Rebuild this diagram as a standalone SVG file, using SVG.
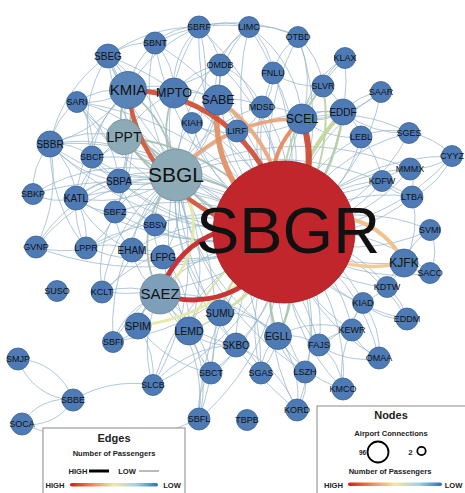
<svg xmlns="http://www.w3.org/2000/svg" width="465" height="493" viewBox="0 0 465 493">
<defs>
<linearGradient id="grad" x1="0" y1="0" x2="1" y2="0">
<stop offset="0" stop-color="#d7191c"/>
<stop offset="0.25" stop-color="#f08a4b"/>
<stop offset="0.5" stop-color="#f3e8a8"/>
<stop offset="0.75" stop-color="#a5d3e2"/>
<stop offset="1" stop-color="#2c6fb6"/>
</linearGradient>
<style>
.e path{fill:none;stroke:#92b2c8;stroke-width:0.9;opacity:0.8}
.e path.g{stroke:#a4bdb3;stroke-width:1.8;opacity:0.9}
.e path.k{opacity:0.95}
.n{fill:#4e7bb5;stroke:#3a6394;stroke-width:0.8}
.h{fill:#8dabb6;stroke:#6f8c98;stroke-width:0.8}
.l{font-family:"Liberation Sans",Arial,Helvetica,sans-serif;text-anchor:middle;fill:#111}
.s{font-size:9px}
.m{font-size:10px}
.lg{fill:#fff;stroke:#8a8a8a;stroke-width:1}
.b{font-family:"Liberation Sans",Arial,Helvetica,sans-serif;font-weight:bold;fill:#222}
</style>
</defs>
<rect width="465" height="493" fill="#fff"/>
<g id="connectors" class="e">
<!-- SBGR thin pairs -->
<path d="M284 232A300 300 0 0 0 108 56M284 232A300 300 0 0 1 108 56"/>
<path d="M284 232A275 275 0 0 0 155 43M284 232A275 275 0 0 1 155 43"/>
<path d="M284 232A265 265 0 0 0 199 27M284 232A265 265 0 0 1 199 27"/>
<path d="M284 232A250 250 0 0 0 249 27M284 232A250 250 0 0 1 249 27"/>
<path d="M284 232A235 235 0 0 0 298 37M284 232A235 235 0 0 1 298 37"/>
<path d="M284 232A215 215 0 0 0 220 65M284 232A215 215 0 0 1 220 65"/>
<path d="M284 232A190 190 0 0 0 273 73M284 232A190 190 0 0 1 273 73"/>
<path d="M284 232A150 150 0 0 0 262 107M284 232A150 150 0 0 1 262 107"/>
<path d="M284 232A170 170 0 0 0 192 123M284 232A170 170 0 0 1 192 123"/>
<path d="M284 232A220 220 0 0 0 345 58M284 232A220 220 0 0 1 345 58"/>
<path d="M284 232A205 205 0 0 0 381 92M284 232A205 205 0 0 1 381 92"/>
<path d="M284 232A145 145 0 0 0 361 137M284 232A145 145 0 0 1 361 137"/>
<path d="M284 232A190 190 0 0 0 409 133M284 232A190 190 0 0 1 409 133"/>
<path d="M284 232A220 220 0 0 0 452 156M284 232A220 220 0 0 1 452 156"/>
<path d="M284 232A170 170 0 0 0 410 169M284 232A170 170 0 0 1 410 169"/>
<path d="M284 232A130 130 0 0 0 382 181M284 232A130 130 0 0 1 382 181"/>
<path d="M284 232A160 160 0 0 0 412 197M284 232A160 160 0 0 1 412 197"/>
<path d="M284 232A175 175 0 0 0 430 230M284 232A175 175 0 0 1 430 230"/>
<path d="M284 232A180 180 0 0 0 430 273M284 232A180 180 0 0 1 430 273"/>
<path d="M284 232A140 140 0 0 0 387 287M284 232A140 140 0 0 1 387 287"/>
<path d="M284 232A130 130 0 0 0 363 303M284 232A130 130 0 0 1 363 303"/>
<path d="M284 232A180 180 0 0 0 407 319M284 232A180 180 0 0 1 407 319"/>
<path d="M284 232A145 145 0 0 0 352 330M284 232A145 145 0 0 1 352 330"/>
<path d="M284 232A140 140 0 0 0 319 345M284 232A140 140 0 0 1 319 345"/>
<path d="M284 232A190 190 0 0 0 379 358M284 232A190 190 0 0 1 379 358"/>
<path d="M284 232A170 170 0 0 0 305 372M284 232A170 170 0 0 1 305 372"/>
<path d="M284 232A200 200 0 0 0 343 389M284 232A200 200 0 0 1 343 389"/>
<path d="M284 232A215 215 0 0 0 297 410M284 232A215 215 0 0 1 297 410"/>
<path d="M284 232A170 170 0 0 0 261 373M284 232A170 170 0 0 1 261 373"/>
<path d="M284 232A190 190 0 0 0 211 373M284 232A190 190 0 0 1 211 373"/>
<path d="M284 232A240 240 0 0 0 153 385M284 232A240 240 0 0 1 153 385"/>
<path d="M284 232A245 245 0 0 0 199 419M284 232A245 245 0 0 1 199 419"/>
<path d="M284 232A245 245 0 0 0 113 342M284 232A245 245 0 0 1 113 342"/>
<path d="M284 232A230 230 0 0 0 102 292M284 232A230 230 0 0 1 102 292"/>
<path d="M284 232A240 240 0 0 0 86 248M284 232A240 240 0 0 1 86 248"/>
<path d="M284 232A300 300 0 0 1 36 247"/>
<path d="M284 232A300 300 0 0 0 33 194"/>
<path d="M284 232A255 255 0 0 0 76 198M284 232A255 255 0 0 1 76 198"/>
<path d="M284 232A210 210 0 0 0 119 181M284 232A210 210 0 0 1 119 181"/>
<path d="M284 232A205 205 0 0 0 115 212M284 232A205 205 0 0 1 115 212"/>
<path d="M284 232A155 155 0 0 0 155 225M284 232A155 155 0 0 1 155 225"/>
<path d="M284 232A185 185 0 0 0 132 250M284 232A185 185 0 0 1 132 250"/>
<path d="M284 232A250 250 0 0 0 92 157M284 232A250 250 0 0 1 92 157"/>
<path d="M284 232A300 300 0 0 0 50 144M284 232A300 300 0 0 1 50 144"/>
<path d="M284 232A295 295 0 0 0 77 102M284 232A295 295 0 0 1 77 102"/>
<path d="M284 232A150 150 0 0 0 236 345M284 232A150 150 0 0 1 236 345"/>
<!-- SBGL thin -->
<path d="M176 175A156 156 0 0 0 50 144M176 175A156 156 0 0 1 50 144"/>
<path d="M176 175A105 105 0 0 1 92 157"/>
<path d="M176 175A150 150 0 0 0 77 102"/>
<path d="M176 175A165 165 0 0 0 108 56M176 175A165 165 0 0 1 108 56"/>
<path d="M176 175A160 160 0 0 1 155 43"/>
<path d="M176 175A180 180 0 0 0 199 27M176 175A180 180 0 0 1 199 27"/>
<path d="M176 175A70 70 0 0 1 119 181"/>
<path d="M176 175A85 85 0 0 0 115 212"/>
<path d="M176 175A125 125 0 0 0 76 198M176 175A125 125 0 0 1 76 198"/>
<path d="M176 175A175 175 0 0 0 33 194"/>
<path d="M176 175A65 65 0 0 0 155 225"/>
<path d="M176 175A140 140 0 0 1 86 248"/>
<path d="M176 175A105 105 0 0 0 132 250"/>
<path d="M176 175A100 100 0 0 1 163 257"/>
<path d="M176 175A165 165 0 0 0 102 292"/>
<path d="M176 175A215 215 0 0 0 113 342"/>
<path d="M176 175A255 255 0 0 1 153 385"/>
<path d="M176 175A240 240 0 0 0 211 373"/>
<path d="M176 175A295 295 0 0 1 199 419"/>
<path d="M176 175A105 105 0 0 0 218 100"/>
<path d="M176 175A65 65 0 0 1 192 123"/>
<path d="M176 175A140 140 0 0 0 220 65"/>
<path d="M176 175A130 130 0 0 1 262 107"/>
<path d="M176 175A175 175 0 0 0 220 313"/>
<path d="M176 175A190 190 0 0 1 189 331"/>
<path d="M176 175A215 215 0 0 0 236 345"/>
<path d="M176 175A230 230 0 0 0 278 336"/>
<path d="M176 175A280 280 0 0 0 305 372"/>
<path d="M176 175A260 260 0 0 1 261 373"/>
<path d="M176 175A320 320 0 0 0 297 410"/>
<path d="M176 175A265 265 0 0 1 319 345"/>
<path d="M176 175A200 200 0 0 1 249 27"/>
<path d="M176 175A215 215 0 0 1 343 112"/>
<path d="M176 175A190 190 0 0 0 36 247"/>
<path d="M176 175A290 290 0 0 0 404 263"/>
<path d="M176 175A285 285 0 0 1 412 197"/>
<path d="M176 175A280 280 0 0 1 410 169"/>
<path d="M176 175A260 260 0 0 0 382 181"/>
<!-- other thin -->
<path d="M128 90A60 60 0 0 1 108 56M128 90A60 60 0 0 0 108 56"/>
<path d="M128 90A80 80 0 0 1 155 43"/>
<path d="M128 90A80 80 0 0 0 77 102M128 90A80 80 0 0 1 77 102"/>
<path d="M128 90A140 140 0 0 1 50 144"/>
<path d="M128 90A140 140 0 0 1 199 27"/>
<path d="M128 90A110 110 0 0 0 92 157"/>
<path d="M128 90A130 130 0 0 1 119 181"/>
<path d="M128 90A130 130 0 0 1 218 100"/>
<path d="M128 90A140 140 0 0 0 220 65"/>
<path d="M128 90A180 180 0 0 0 76 198"/>
<path d="M128 90A180 180 0 0 1 115 212"/>
<path d="M124 137A110 110 0 0 0 50 144"/>
<path d="M124 137A55 55 0 0 1 92 157"/>
<path d="M124 137A65 65 0 0 1 119 181"/>
<path d="M124 137A85 85 0 0 1 77 102"/>
<path d="M124 137A115 115 0 0 0 76 198"/>
<path d="M124 137A125 125 0 0 0 108 56"/>
<path d="M124 137A100 100 0 0 1 174 93"/>
<path d="M124 137A110 110 0 0 1 115 212"/>
<path d="M50 144A60 60 0 0 1 92 157"/>
<path d="M50 144A80 80 0 0 1 76 198"/>
<path d="M50 144A110 110 0 0 0 119 181"/>
<path d="M50 144A140 140 0 0 1 108 56"/>
<path d="M50 144A70 70 0 0 1 77 102"/>
<path d="M50 144A70 70 0 0 0 33 194"/>
<path d="M50 144A160 160 0 0 0 86 248"/>
<path d="M50 144A160 160 0 0 1 36 247"/>
<path d="M76 198A60 60 0 0 1 33 194"/>
<path d="M76 198A60 60 0 0 0 115 212"/>
<path d="M76 198A60 60 0 0 1 119 181"/>
<path d="M76 198A90 90 0 0 0 86 248M76 198A90 90 0 0 1 86 248"/>
<path d="M76 198A110 110 0 0 0 132 250"/>
<path d="M36 247A100 100 0 0 0 86 248"/>
<path d="M36 247A150 150 0 0 1 119 181"/>
<path d="M86 248A70 70 0 0 1 132 250"/>
<path d="M86 248A60 60 0 0 0 115 212"/>
<path d="M132 250A55 55 0 0 1 115 212"/>
<path d="M102 292A70 70 0 0 0 132 250"/>
<path d="M102 292A130 130 0 0 1 115 212"/>
<path d="M102 292A90 90 0 0 1 160 294"/>
<path d="M113 342A40 40 0 0 0 138 326"/>
<path d="M138 326A90 90 0 0 1 153 385"/>
<path d="M138 326A120 120 0 0 0 211 373"/>
<path d="M160 294A70 70 0 0 0 189 331"/>
<path d="M160 294A110 110 0 0 0 236 345"/>
<path d="M160 294A120 120 0 0 1 211 373"/>
<path d="M160 294A160 160 0 0 1 199 419"/>
<path d="M160 294A120 120 0 0 0 153 385"/>
<path d="M160 294A80 80 0 0 0 113 342"/>
<path d="M160 294A160 160 0 0 1 278 336"/>
<path d="M189 331A60 60 0 0 0 236 345"/>
<path d="M189 331A120 120 0 0 1 199 419"/>
<path d="M236 345A110 110 0 0 0 153 385"/>
<path d="M236 345A50 50 0 0 1 211 373"/>
<path d="M211 373A60 60 0 0 0 199 419"/>
<path d="M261 373A45 45 0 0 0 236 345"/>
<path d="M261 373A50 50 0 0 1 278 336"/>
<path d="M278 336A50 50 0 0 0 305 372"/>
<path d="M278 336A60 60 0 0 1 319 345"/>
<path d="M278 336A100 100 0 0 1 297 410"/>
<path d="M278 336A70 70 0 0 0 220 313"/>
<path d="M305 372A50 50 0 0 1 297 410"/>
<path d="M343 389A60 60 0 0 0 319 345"/>
<path d="M343 389A90 90 0 0 1 352 330"/>
<path d="M343 389A110 110 0 0 1 278 336"/>
<path d="M352 330A50 50 0 0 1 363 303"/>
<path d="M363 303A60 60 0 0 0 407 319"/>
<path d="M363 303A80 80 0 0 1 379 358"/>
<path d="M352 330A50 50 0 0 0 379 358"/>
<path d="M319 345A60 60 0 0 1 352 330"/>
<path d="M319 345A90 90 0 0 0 363 303"/>
<path d="M387 287A50 50 0 0 1 404 263"/>
<path d="M404 263A40 40 0 0 0 430 273"/>
<path d="M404 263A60 60 0 0 1 430 230"/>
<path d="M404 263A90 90 0 0 0 412 197"/>
<path d="M404 263A90 90 0 0 1 363 303"/>
<path d="M382 181A50 50 0 0 1 410 169"/>
<path d="M412 197A50 50 0 0 0 410 169"/>
<path d="M412 197A50 50 0 0 1 382 181"/>
<path d="M452 156A70 70 0 0 0 409 133"/>
<path d="M452 156A80 80 0 0 1 412 197"/>
<path d="M452 156A70 70 0 0 1 410 169"/>
<path d="M409 133A70 70 0 0 0 361 137"/>
<path d="M409 133A100 100 0 0 1 343 112"/>
<path d="M409 133A150 150 0 0 0 302 119"/>
<path d="M381 92A60 60 0 0 0 343 112"/>
<path d="M381 92A120 120 0 0 1 302 119"/>
<path d="M343 112A50 50 0 0 0 323 86"/>
<path d="M343 112A60 60 0 0 1 302 119M343 112A60 60 0 0 0 302 119"/>
<path d="M323 86A50 50 0 0 1 345 58"/>
<path d="M323 86A80 80 0 0 0 298 37"/>
<path d="M323 86A80 80 0 0 1 273 73"/>
<path d="M323 86A50 50 0 0 0 302 119"/>
<path d="M273 73A70 70 0 0 0 249 27"/>
<path d="M273 73A50 50 0 0 1 262 107"/>
<path d="M298 37A120 120 0 0 1 302 119"/>
<path d="M298 37A60 60 0 0 0 273 73"/>
<path d="M298 37A80 80 0 0 0 249 27"/>
<path d="M298 37A150 150 0 0 0 199 27"/>
<path d="M302 119A60 60 0 0 0 262 107"/>
<path d="M302 119A80 80 0 0 0 361 137"/>
<path d="M302 119A90 90 0 0 1 237 131"/>
<path d="M345 58A90 90 0 0 0 302 119"/>
<path d="M249 27A120 120 0 0 1 302 119"/>
<path d="M218 100A50 50 0 0 1 220 65"/>
<path d="M218 100A70 70 0 0 0 174 93"/>
<path d="M218 100A70 70 0 0 1 262 107"/>
<path d="M218 100A50 50 0 0 1 237 131"/>
<path d="M218 100A100 100 0 0 1 249 27"/>
<path d="M218 100A50 50 0 0 0 192 123"/>
<path d="M174 93A80 80 0 0 1 199 27"/>
<path d="M174 93A70 70 0 0 0 155 43"/>
<path d="M174 93A70 70 0 0 1 220 65"/>
<path d="M174 93A45 45 0 0 1 192 123"/>
<path d="M220 65A60 60 0 0 0 199 27"/>
<path d="M220 65A70 70 0 0 1 249 27"/>
<path d="M220 65A80 80 0 0 1 262 107"/>
<path d="M249 27A80 80 0 0 0 199 27"/>
<path d="M199 27A60 60 0 0 0 155 43"/>
<path d="M108 56A70 70 0 0 1 155 43"/>
<path d="M108 56A150 150 0 0 1 199 27"/>
<path d="M155 43A150 150 0 0 1 249 27"/>
<path d="M108 56A120 120 0 0 0 92 157"/>
<path d="M77 102A70 70 0 0 1 92 157"/>
<path d="M77 102A120 120 0 0 1 119 181"/>
<path d="M92 157A50 50 0 0 0 119 181"/>
<path d="M92 157A60 60 0 0 1 76 198"/>
<path d="M119 181A40 40 0 0 1 115 212"/>
<path d="M119 181A70 70 0 0 0 155 225"/>
<path d="M115 212A50 50 0 0 1 155 225"/>
<path d="M155 225A40 40 0 0 0 163 257"/>
<path d="M132 250A40 40 0 0 1 163 257"/>
<path d="M163 257A45 45 0 0 1 160 294"/>
<path d="M132 250A70 70 0 0 0 160 294"/>
<path d="M163 257A100 100 0 0 1 189 331"/>
<path d="M192 123A60 60 0 0 0 237 131"/>
<path d="M237 131A40 40 0 0 0 262 107"/>
<path d="M18 359A60 60 0 0 1 73 400M18 359A60 60 0 0 0 73 400"/>
<path d="M73 400A50 50 0 0 1 22 424M73 400A50 50 0 0 0 22 424"/>
<path d="M22 424A220 220 0 0 0 199 419"/>
<path d="M73 400A120 120 0 0 1 153 385"/>
<path d="M297 410A120 120 0 0 0 236 345"/>
<path d="M352 330A90 90 0 0 0 278 336"/>
<path d="M379 358A80 80 0 0 1 319 345"/>
<path d="M407 319A60 60 0 0 0 387 287"/>
<path d="M430 273A50 50 0 0 0 430 230"/>
<path d="M361 137A40 40 0 0 0 343 112"/>
<path d="M361 137A80 80 0 0 1 382 181"/>
<!-- medium grey-green -->
<path class="g" d="M284 232A225 225 0 0 0 124 137M284 232A225 225 0 0 1 124 137"/>
<path class="g" d="M284 232A150 150 0 0 0 176 175M284 232A150 150 0 0 1 176 175"/>
<path class="g" d="M176 175A120 120 0 0 0 128 90M176 175A120 120 0 0 1 128 90"/>
<path class="g" d="M176 175A80 80 0 0 0 124 137M176 175A80 80 0 0 1 124 137"/>
<path class="g" d="M176 175A100 100 0 0 1 174 93"/>
<path class="g" d="M128 90A60 60 0 0 1 124 137M128 90A60 60 0 0 0 124 137"/>
<path class="g" d="M138 326A50 50 0 0 1 160 294"/>
<path class="g" d="M176 175A100 100 0 0 0 160 294"/>
<path class="g" style="stroke:#a9c3ac;stroke-width:2.4" d="M284 232A125 125 0 0 0 278 336M284 232A125 125 0 0 1 278 336"/>
<path class="g" style="stroke:#cbd9a2;stroke-width:2.4" d="M284 232A125 125 0 0 0 220 313M284 232A125 125 0 0 1 220 313"/>
<path class="g" style="stroke:#d6dea3;stroke-width:2" d="M284 232A165 165 0 0 0 189 331M284 232A165 165 0 0 1 189 331"/>
<path class="g" style="stroke:#bad0a2;stroke-width:2" d="M284 232A180 180 0 0 0 323 86M284 232A180 180 0 0 1 323 86"/>
<!-- thick coloured -->
<path class="k" style="stroke:#e4e8a6;stroke-width:3" d="M176 175A85 85 0 0 1 160 294"/>
<path class="k" style="stroke:#e6e9a8;stroke-width:3" d="M138 326A198 198 0 0 0 284 232"/>
<path class="k" style="stroke:#c3d59d;stroke-width:4" d="M343 112A220 220 0 0 0 284 232"/>
<path class="k" style="stroke:#b7cda4;stroke-width:2.5" d="M343 112A200 200 0 0 1 284 232"/>
<path class="k" style="stroke:#efc088;stroke-width:4" d="M404 263A80 80 0 0 0 284 232"/>
<path class="k" style="stroke:#f1c894;stroke-width:3.5" d="M404 263A135 135 0 0 1 284 232"/>
<path class="k" style="stroke:#e8a27b;stroke-width:3.5" d="M176 175A157 157 0 0 1 302 119"/>
<path class="k" style="stroke:#eaa87e;stroke-width:4" d="M218 100A150 150 0 0 1 284 232"/>
<path class="k" style="stroke:#e39066;stroke-width:5.5" d="M218 100A130 130 0 0 0 284 232"/>
<path class="k" style="stroke:#e48c62;stroke-width:4" d="M302 119A90 90 0 0 0 284 232"/>
<path class="k" style="stroke:#cf4a36;stroke-width:6" d="M302 119A120 120 0 0 1 284 232"/>
<path class="k" style="stroke:#d4583c;stroke-width:4.5" d="M128 90A159 159 0 0 0 284 232"/>
<path class="k" style="stroke:#d0503a;stroke-width:5" d="M128 90A159 159 0 0 1 284 232"/>
<path class="k" style="stroke:#c62a2d;stroke-width:5" d="M160 294A95 95 0 0 1 284 232M160 294A95 95 0 0 0 284 232"/>
</g>
<g id="nodes">
<g id="n-SBNT"><circle class="n" cx="155" cy="43" r="11"/><text class="l s" x="155" y="46.2">SBNT</text></g>
<g id="n-SBRF"><circle class="n" cx="199" cy="27" r="11"/><text class="l s" x="199" y="30.2">SBRF</text></g>
<g id="n-LIMC"><circle class="n" cx="249" cy="27" r="10.5"/><text class="l s" x="249" y="30.2">LIMC</text></g>
<g id="n-OTBD"><circle class="n" cx="298" cy="37" r="10.5"/><text class="l s" x="298" y="40.2">OTBD</text></g>
<g id="n-OMDB"><circle class="n" cx="220" cy="65" r="11"/><text class="l s" x="220" y="68.2">OMDB</text></g>
<g id="n-FNLU"><circle class="n" cx="273" cy="73" r="11"/><text class="l s" x="273" y="76.2">FNLU</text></g>
<g id="n-MDSD"><circle class="n" cx="262" cy="107" r="11"/><text class="l s" x="262" y="110.2">MDSD</text></g>
<g id="n-KIAH"><circle class="n" cx="192" cy="123" r="10.5"/><text class="l s" x="192" y="126.2">KIAH</text></g>
<g id="n-LIRF"><circle class="n" cx="237" cy="131" r="11"/><text class="l s" x="237" y="134.2">LIRF</text></g>
<g id="n-KLAX"><circle class="n" cx="345" cy="58" r="10.5"/><text class="l s" x="345" y="61.2">KLAX</text></g>
<g id="n-SLVR"><circle class="n" cx="323" cy="86" r="11"/><text class="l s" x="323" y="89.2">SLVR</text></g>
<g id="n-SAAR"><circle class="n" cx="381" cy="92" r="10.5"/><text class="l s" x="381" y="95.2">SAAR</text></g>
<g id="n-LEBL"><circle class="n" cx="361" cy="137" r="11"/><text class="l s" x="361" y="140.2">LEBL</text></g>
<g id="n-SGES"><circle class="n" cx="409" cy="133" r="10.5"/><text class="l s" x="409" y="136.2">SGES</text></g>
<g id="n-CYYZ"><circle class="n" cx="452" cy="156" r="10.5"/><text class="l s" x="452" y="159.2">CYYZ</text></g>
<g id="n-MMMX"><circle class="n" cx="410" cy="169" r="11"/><text class="l s" x="410" y="172.2">MMMX</text></g>
<g id="n-KDFW"><circle class="n" cx="382" cy="181" r="10.5"/><text class="l s" x="382" y="184.2">KDFW</text></g>
<g id="n-LTBA"><circle class="n" cx="412" cy="197" r="11"/><text class="l s" x="412" y="200.2">LTBA</text></g>
<g id="n-SVMI"><circle class="n" cx="430" cy="230" r="10.5"/><text class="l s" x="430" y="233.2">SVMI</text></g>
<g id="n-SACO"><circle class="n" cx="430" cy="273" r="10.5"/><text class="l s" x="430" y="276.2">SACO</text></g>
<g id="n-KDTW"><circle class="n" cx="387" cy="287" r="10.5"/><text class="l s" x="387" y="290.2">KDTW</text></g>
<g id="n-KIAD"><circle class="n" cx="363" cy="303" r="10.5"/><text class="l s" x="363" y="306.2">KIAD</text></g>
<g id="n-EDDM"><circle class="n" cx="407" cy="319" r="11"/><text class="l s" x="407" y="322.2">EDDM</text></g>
<g id="n-KEWR"><circle class="n" cx="352" cy="330" r="11"/><text class="l s" x="352" y="333.2">KEWR</text></g>
<g id="n-FAJS"><circle class="n" cx="319" cy="345" r="11"/><text class="l s" x="319" y="348.2">FAJS</text></g>
<g id="n-OMAA"><circle class="n" cx="379" cy="358" r="11"/><text class="l s" x="379" y="361.2">OMAA</text></g>
<g id="n-LSZH"><circle class="n" cx="305" cy="372" r="11"/><text class="l s" x="305" y="375.2">LSZH</text></g>
<g id="n-KMCO"><circle class="n" cx="343" cy="389" r="11"/><text class="l s" x="343" y="392.2">KMCO</text></g>
<g id="n-KORD"><circle class="n" cx="297" cy="410" r="11"/><text class="l s" x="297" y="413.2">KORD</text></g>
<g id="n-SGAS"><circle class="n" cx="261" cy="373" r="11"/><text class="l s" x="261" y="376.2">SGAS</text></g>
<g id="n-SBCT"><circle class="n" cx="211" cy="373" r="11"/><text class="l s" x="211" y="376.2">SBCT</text></g>
<g id="n-SLCB"><circle class="n" cx="153" cy="385" r="10.5"/><text class="l s" x="153" y="388.2">SLCB</text></g>
<g id="n-SBFL"><circle class="n" cx="199" cy="419" r="11"/><text class="l s" x="199" y="422.2">SBFL</text></g>
<g id="n-TBPB"><circle class="n" cx="247" cy="420" r="10.5"/><text class="l s" x="247" y="423.2">TBPB</text></g>
<g id="n-SBFI"><circle class="n" cx="113" cy="342" r="10.5"/><text class="l s" x="113" y="345.2">SBFI</text></g>
<g id="n-SMJP"><circle class="n" cx="18" cy="359" r="11"/><text class="l s" x="18" y="362.2">SMJP</text></g>
<g id="n-SBBE"><circle class="n" cx="73" cy="400" r="11"/><text class="l s" x="73" y="403.2">SBBE</text></g>
<g id="n-SOCA"><circle class="n" cx="22" cy="424" r="11"/><text class="l s" x="22" y="427.2">SOCA</text></g>
<g id="n-SUSO"><circle class="n" cx="57" cy="291" r="10.5"/><text class="l s" x="57" y="294.2">SUSO</text></g>
<g id="n-KCLT"><circle class="n" cx="102" cy="292" r="11"/><text class="l s" x="102" y="295.2">KCLT</text></g>
<g id="n-GVNP"><circle class="n" cx="36" cy="247" r="11"/><text class="l s" x="36" y="250.2">GVNP</text></g>
<g id="n-LPPR"><circle class="n" cx="86" cy="248" r="11"/><text class="l s" x="86" y="251.2">LPPR</text></g>
<g id="n-SBKP"><circle class="n" cx="33" cy="194" r="10.5"/><text class="l s" x="33" y="197.2">SBKP</text></g>
<g id="n-SBFZ"><circle class="n" cx="115" cy="212" r="11"/><text class="l s" x="115" y="215.2">SBFZ</text></g>
<g id="n-SBSV"><circle class="n" cx="155" cy="225" r="11"/><text class="l s" x="155" y="228.2">SBSV</text></g>
<g id="n-SBCF"><circle class="n" cx="92" cy="157" r="11"/><text class="l s" x="92" y="160.2">SBCF</text></g>
<g id="n-SARI"><circle class="n" cx="77" cy="102" r="10.5"/><text class="l s" x="77" y="105.2">SARI</text></g>
<g id="n-SBEG"><circle class="n" cx="108" cy="56" r="12"/><text class="l m" x="108" y="59.5">SBEG</text></g>
<g id="n-SBBR"><circle class="n" cx="50" cy="144" r="13"/><text class="l m" x="50" y="147.5">SBBR</text></g>
<g id="n-SBPA"><circle class="n" cx="119" cy="181" r="12"/><text class="l m" x="119" y="184.5">SBPA</text></g>
<g id="n-KATL"><circle class="n" cx="76" cy="198" r="12"/><text class="l m" x="76" y="201.5">KATL</text></g>
<g id="n-EHAM"><circle class="n" cx="132" cy="250" r="12"/><text class="l m" x="132" y="253.5">EHAM</text></g>
<g id="n-LFPG"><circle class="n" cx="163" cy="257" r="12"/><text class="l m" x="163" y="260.5">LFPG</text></g>
<g id="n-SPIM"><circle class="n" cx="138" cy="326" r="13"/><text class="l" style="font-size:10.5px" x="138" y="329.7">SPIM</text></g>
<g id="n-LEMD"><circle class="n" cx="189" cy="331" r="14"/><text class="l" style="font-size:10.5px" x="189" y="334.7">LEMD</text></g>
<g id="n-SUMU"><circle class="n" cx="220" cy="313" r="13"/><text class="l m" x="220" y="316.5">SUMU</text></g>
<g id="n-SKBO"><circle class="n" cx="236" cy="345" r="12"/><text class="l m" x="236" y="348.5">SKBO</text></g>
<g id="n-EGLL"><circle class="n" cx="278" cy="336" r="13.5"/><text class="l m" x="278" y="339.5">EGLL</text></g>
<g id="n-EDDF"><circle class="n" cx="343" cy="112" r="13"/><text class="l m" x="343" y="115.5">EDDF</text></g>
<g id="n-MPTO"><circle class="n" cx="174" cy="93" r="15"/><text class="l" style="font-size:12.5px" x="174" y="97.4">MPTO</text></g>
<g id="n-SABE"><circle class="n" cx="218" cy="100" r="15"/><text class="l" style="font-size:12.5px" x="218" y="104.4">SABE</text></g>
<g id="n-SCEL"><circle class="n" cx="302" cy="119" r="15"/><text class="l" style="font-size:12.5px" x="302" y="123.4">SCEL</text></g>
<g id="n-KJFK"><circle class="n" cx="404" cy="263" r="14"/><text class="l" style="font-size:12px" x="404" y="267.2">KJFK</text></g>
<g id="n-KMIA"><circle class="n" style="fill:#5984b8" cx="128" cy="90" r="18.5"/><text class="l" style="font-size:15px" x="128" y="95.3">KMIA</text></g>
<g id="n-LPPT"><circle class="h" cx="124" cy="137" r="17.5"/><text class="l" style="font-size:14px" x="124" y="141.9">LPPT</text></g>
<g id="n-SAEZ"><circle class="h" style="fill:#7e9fb9" cx="160" cy="294" r="20"/><text class="l" style="font-size:15px" x="160" y="299.3">SAEZ</text></g>
<g id="n-SBGL"><circle class="h" cx="176" cy="175" r="26"/><text class="l" style="font-size:21px" x="176" y="182.4">SBGL</text></g>
<g id="n-SBGR"><circle cx="284" cy="232" r="71" fill="#c1262c" stroke="#9e1c20" stroke-width="0.8"/><text class="l" style="font-size:65px" x="288" y="253">SBGR</text></g>
</g>
<g id="legend-edges">
<rect class="lg" x="43" y="428" width="142" height="70"/>
<text class="b" x="114" y="441.5" text-anchor="middle" font-size="11">Edges</text>
<text class="b" x="114" y="456" text-anchor="middle" font-size="7.6">Number of Passengers</text>
<text class="b" x="78" y="473.5" text-anchor="middle" font-size="7.6">HIGH</text>
<line x1="89" y1="471" x2="109" y2="471" stroke="#000" stroke-width="3"/>
<text class="b" x="127" y="473.5" text-anchor="middle" font-size="7.6">LOW</text>
<line x1="139" y1="471" x2="159" y2="471" stroke="#555" stroke-width="0.8"/>
<text class="b" x="55" y="487.5" text-anchor="middle" font-size="7.6">HIGH</text>
<rect x="70" y="483" width="88" height="3.6" rx="1.8" fill="url(#grad)"/>
<text class="b" x="172" y="487.5" text-anchor="middle" font-size="7.6">LOW</text>
</g>
<g id="legend-nodes">
<rect class="lg" x="317" y="406" width="160" height="95"/>
<text class="b" x="391" y="419" text-anchor="middle" font-size="11">Nodes</text>
<text class="b" x="391" y="435.5" text-anchor="middle" font-size="7.6">Airport Connections</text>
<text class="b" x="362.5" y="455" text-anchor="middle" font-size="6.5">96</text>
<circle cx="378" cy="452" r="10.5" fill="none" stroke="#000" stroke-width="1.8"/>
<text class="b" x="410.5" y="455" text-anchor="middle" font-size="8">2</text>
<circle cx="421.5" cy="451" r="4.2" fill="none" stroke="#000" stroke-width="1.8"/>
<text class="b" x="390" y="474" text-anchor="middle" font-size="7.6">Number of Passengers</text>
<text class="b" x="333.5" y="487.5" text-anchor="middle" font-size="7.6">HIGH</text>
<rect x="348" y="482.5" width="94" height="3.6" rx="1.8" fill="url(#grad)"/>
<text class="b" x="453.5" y="487.5" text-anchor="middle" font-size="7.6">LOW</text>
</g>
</svg>
